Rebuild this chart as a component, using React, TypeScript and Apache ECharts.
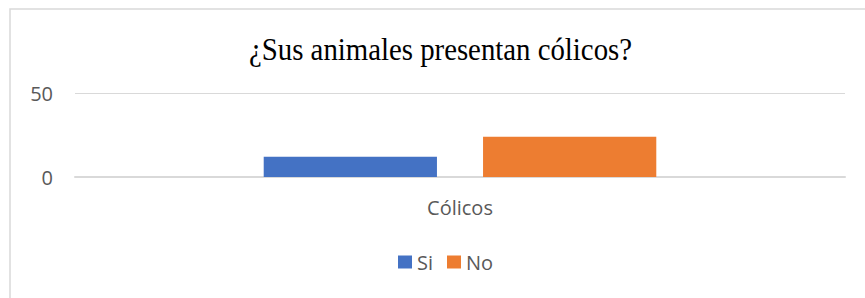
import React, { useEffect, useRef } from "react";
import * as echarts from "echarts";

const categories = ["Cólicos"];
const seriesNames = ["Si", "No"];
const siValues = [12];
const noValues = [24];
const colors = ["#4472C4", "#ED7D31"];
const titleText = "¿Sus animales presentan cólicos?";

export default function App() {
  const ref = useRef<HTMLDivElement>(null);
  useEffect(() => {
    if (!ref.current) return;
    const chart = echarts.init(ref.current, null, { renderer: "svg" });
    chart.setOption({
      animation: false,
      backgroundColor: "#ffffff",
      graphic: [
        {
          type: "rect",
          shape: { x: 10, y: 9, width: 900, height: 400 },
          style: { fill: "none", stroke: "#d9d9d9", lineWidth: 1.5 },
          silent: true,
        },
        {
          type: "text",
          x: 440.5,
          y: 49,
          scaleX: 0.9,
          style: {
            text: titleText,
            fill: "#000000",
            font: '32px "Liberation Serif", serif',
            textAlign: "center",
            textVerticalAlign: "middle",
          },
        },
      ],
      grid: { left: 75, right: 20, top: 93, bottom: 121, containLabel: false },
      legend: {
        data: seriesNames,
        left: 398,
        top: 252,
        padding: 0,
        itemWidth: 14,
        itemHeight: 13,
        itemGap: 14,
        icon: "rect",
        textStyle: { color: "#595959", fontSize: 20, fontFamily: "Open Sans" },
      },
      xAxis: {
        type: "category",
        data: categories,
        axisLine: { show: true, lineStyle: { color: "#d9d9d9", width: 2 } },
        axisTick: { show: false },
        axisLabel: { color: "#595959", fontSize: 20, fontFamily: "Open Sans", margin: 20 },
      },
      yAxis: {
        type: "value",
        min: 0,
        max: 50,
        interval: 50,
        axisLine: { show: false },
        axisTick: { show: false },
        axisLabel: { color: "#595959", fontSize: 20, fontFamily: "Open Sans", margin: 22 },
        splitLine: { lineStyle: { color: "#d9d9d9", width: 1 } },
      },
      series: [
        {
          name: seriesNames[0],
          type: "bar",
          data: siValues,
          barWidth: "22.5%",
          barGap: "26.6%",
          itemStyle: { color: colors[0] },
        },
        {
          name: seriesNames[1],
          type: "bar",
          data: noValues,
          barWidth: "22.5%",
          barGap: "26.6%",
          itemStyle: { color: colors[1] },
        },
      ],
    });
    return () => chart.dispose();
  }, []);
  return (
    <div
      ref={ref}
      style={{ position: "fixed", left: 0, top: 0, width: 865, height: 298 }}
    />
  );
}
